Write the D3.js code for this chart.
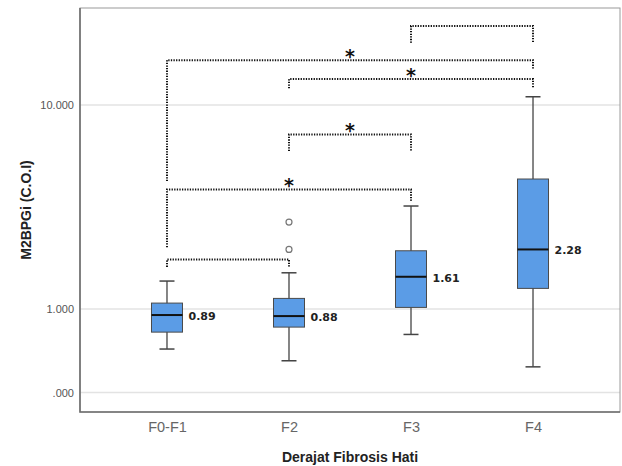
<!DOCTYPE html>
<html>
<head>
<meta charset="utf-8">
<script src="https://cdn.jsdelivr.net/npm/d3@7"></script>
<style>
  body { margin: 0; background: #fff; }
  svg { display: block; }
</style>
</head>
<body>
<script>
const [width, height] = [622, 466]
const margin = { top: 8, right: 2, bottom: 54, left: 80 }

// data
const categories = ["F0-F1", "F2", "F3", "F4"]
const whiskerLow = [0.637, 0.558, 0.751, 0.521]
const q1 = [0.771, 0.816, 1.019, 1.263]
const median = [0.935, 0.924, 1.44, 1.96]
const q3 = [1.070, 1.128, 1.931, 4.34]
const whiskerHigh = [1.372, 1.506, 3.20, 10.98]
const medianLabels = ["0.89", "0.88", "1.61", "2.28"]
const outliers = [["F2", 1.96], ["F2", 2.67]]

const yTickValues = [10, 1, 0.39]
const yTickLabels = ["10.000", "1.000", ".000"]

// significance brackets: from, to, bar level, left leg end, right leg end, star
const brackets = [
  ["F0-F1", "F2", 1.75, 1.61, 1.61, false],
  ["F0-F1", "F3", 3.86, 2.01, 3.36, true],
  ["F2", "F3", 7.18, 5.95, 5.95, true],
  ["F2", "F4", 13.4, 12.08, 12.08, true],
  ["F0-F1", "F4", 16.6, 4.24, 15.1, true],
  ["F3", "F4", 24.4, 20.2, 20.2, false]
]

const svg = d3.select("body").append("svg")
  .attr("width", width)
  .attr("height", height)

const x = d3.scalePoint()
  .domain(categories)
  .range([margin.left, width - margin.right])
  .padding(0.713)

const y = d3.scaleLog()
  .domain([0.313, 29.9])
  .range([height - margin.bottom, margin.top])

// gridlines
svg.append("g")
  .selectAll("line")
  .data(yTickValues)
  .enter()
  .append("line")
    .attr("x1", margin.left)
    .attr("x2", width - margin.right)
    .attr("y1", d => y(d))
    .attr("y2", d => y(d))
    .attr("stroke", "#e3e3e3")
    .attr("stroke-width", 1.5)

// frame
svg.append("rect")
  .attr("x", margin.left)
  .attr("y", margin.top)
  .attr("width", width - margin.right - margin.left)
  .attr("height", height - margin.bottom - margin.top)
  .attr("fill", "none")
  .attr("stroke", "#9a9a9a")
  .attr("stroke-width", 1)
svg.append("path")
  .attr("d", `M${margin.left},${margin.top}V${height - margin.bottom}H${width - margin.right}`)
  .attr("fill", "none")
  .attr("stroke", "#6e6e6e")
  .attr("stroke-width", 1.6)

// y axis labels
const yAxis = svg.append("g")
  .attr("transform", `translate(${margin.left - 6},0)`)
  .call(d3.axisLeft(y).tickValues(yTickValues).tickSize(0).tickPadding(0)
    .tickFormat((d, i) => yTickLabels[i]))
yAxis.select(".domain").remove()
yAxis.selectAll("text")
  .attr("font-family", "Liberation Sans, Arial, sans-serif")
  .attr("font-size", "11px")
  .attr("fill", "#555")

// x axis labels
const xAxis = svg.append("g")
  .attr("transform", `translate(0,${height - margin.bottom})`)
  .call(d3.axisBottom(x).tickSize(0).tickPadding(10))
xAxis.select(".domain").remove()
xAxis.selectAll("text")
  .attr("font-family", "Liberation Sans, Arial, sans-serif")
  .attr("font-size", "14.5px")
  .attr("fill", "#666")

// axis titles
svg.append("text")
  .text("Derajat Fibrosis Hati")
  .attr("x", (margin.left + width - margin.right) / 2)
  .attr("y", 462)
  .attr("text-anchor", "middle")
  .attr("font-family", "Liberation Sans, Arial, sans-serif")
  .attr("font-weight", "bold")
  .attr("font-size", "14px")
  .attr("fill", "#222")

svg.append("text")
  .text("M2BPGi (C.O.I)")
  .attr("transform", `translate(31,${(margin.top + height - margin.bottom) / 2}) rotate(-90)`)
  .attr("text-anchor", "middle")
  .attr("font-family", "Liberation Sans, Arial, sans-serif")
  .attr("font-weight", "bold")
  .attr("font-size", "14px")
  .attr("fill", "#222")

// boxes
const boxWidth = 31
const capWidth = 15
const boxes = svg.append("g")
  .selectAll("g")
  .data(categories)
  .enter()
  .append("g")

boxes.append("line")
  .attr("x1", d => x(d))
  .attr("x2", d => x(d))
  .attr("y1", (d, i) => y(whiskerLow[i]))
  .attr("y2", (d, i) => y(whiskerHigh[i]))
  .attr("stroke", "#444")
  .attr("stroke-width", 1.3)

boxes.selectAll(".cap")
  .data((d, i) => [[d, whiskerLow[i]], [d, whiskerHigh[i]]])
  .enter()
  .append("line")
    .attr("x1", d => x(d[0]) - capWidth / 2)
    .attr("x2", d => x(d[0]) + capWidth / 2)
    .attr("y1", d => y(d[1]))
    .attr("y2", d => y(d[1]))
    .attr("stroke", "#444")
    .attr("stroke-width", 1.5)

boxes.append("rect")
  .attr("x", d => x(d) - boxWidth / 2)
  .attr("y", (d, i) => y(q3[i]))
  .attr("width", boxWidth)
  .attr("height", (d, i) => y(q1[i]) - y(q3[i]))
  .attr("fill", "#5b9ce6")
  .attr("stroke", "#4a4a4a")
  .attr("stroke-width", 1)

boxes.append("line")
  .attr("x1", d => x(d) - boxWidth / 2)
  .attr("x2", d => x(d) + boxWidth / 2)
  .attr("y1", (d, i) => y(median[i]))
  .attr("y2", (d, i) => y(median[i]))
  .attr("stroke", "#111")
  .attr("stroke-width", 2)

boxes.append("text")
  .text((d, i) => medianLabels[i])
  .attr("x", d => x(d) + boxWidth / 2 + 6)
  .attr("y", (d, i) => y(median[i]) + 2)
  .attr("dominant-baseline", "middle")
  .attr("font-family", "DejaVu Sans, sans-serif")
  .attr("font-weight", "bold")
  .attr("font-size", "11px")
  .attr("fill", "#222")

// outliers
svg.append("g")
  .selectAll("circle")
  .data(outliers)
  .enter()
  .append("circle")
    .attr("cx", d => x(d[0]))
    .attr("cy", d => y(d[1]))
    .attr("r", 3)
    .attr("fill", "#fff")
    .attr("stroke", "#777")
    .attr("stroke-width", 1.2)

// significance brackets
const sig = svg.append("g")
sig.selectAll("path")
  .data(brackets)
  .enter()
  .append("path")
    .attr("d", d => `M${x(d[0])},${y(d[3])}V${y(d[2])}H${x(d[1])}V${y(d[4])}`)
    .attr("fill", "none")
    .attr("stroke", "#111")
    .attr("stroke-width", 2)
    .attr("stroke-dasharray", "1.3,1.3")

sig.selectAll("text")
  .data(brackets.filter(d => d[5]))
  .enter()
  .append("text")
    .text("*")
    .attr("x", d => (x(d[0]) + x(d[1])) / 2)
    .attr("y", d => y(d[2]) + 3)
    .attr("text-anchor", "middle")
    .attr("font-family", "DejaVu Sans, sans-serif")
    .attr("font-weight", "bold")
    .attr("font-size", "19px")
    .attr("fill", "#111")
</script>
</body>
</html>
